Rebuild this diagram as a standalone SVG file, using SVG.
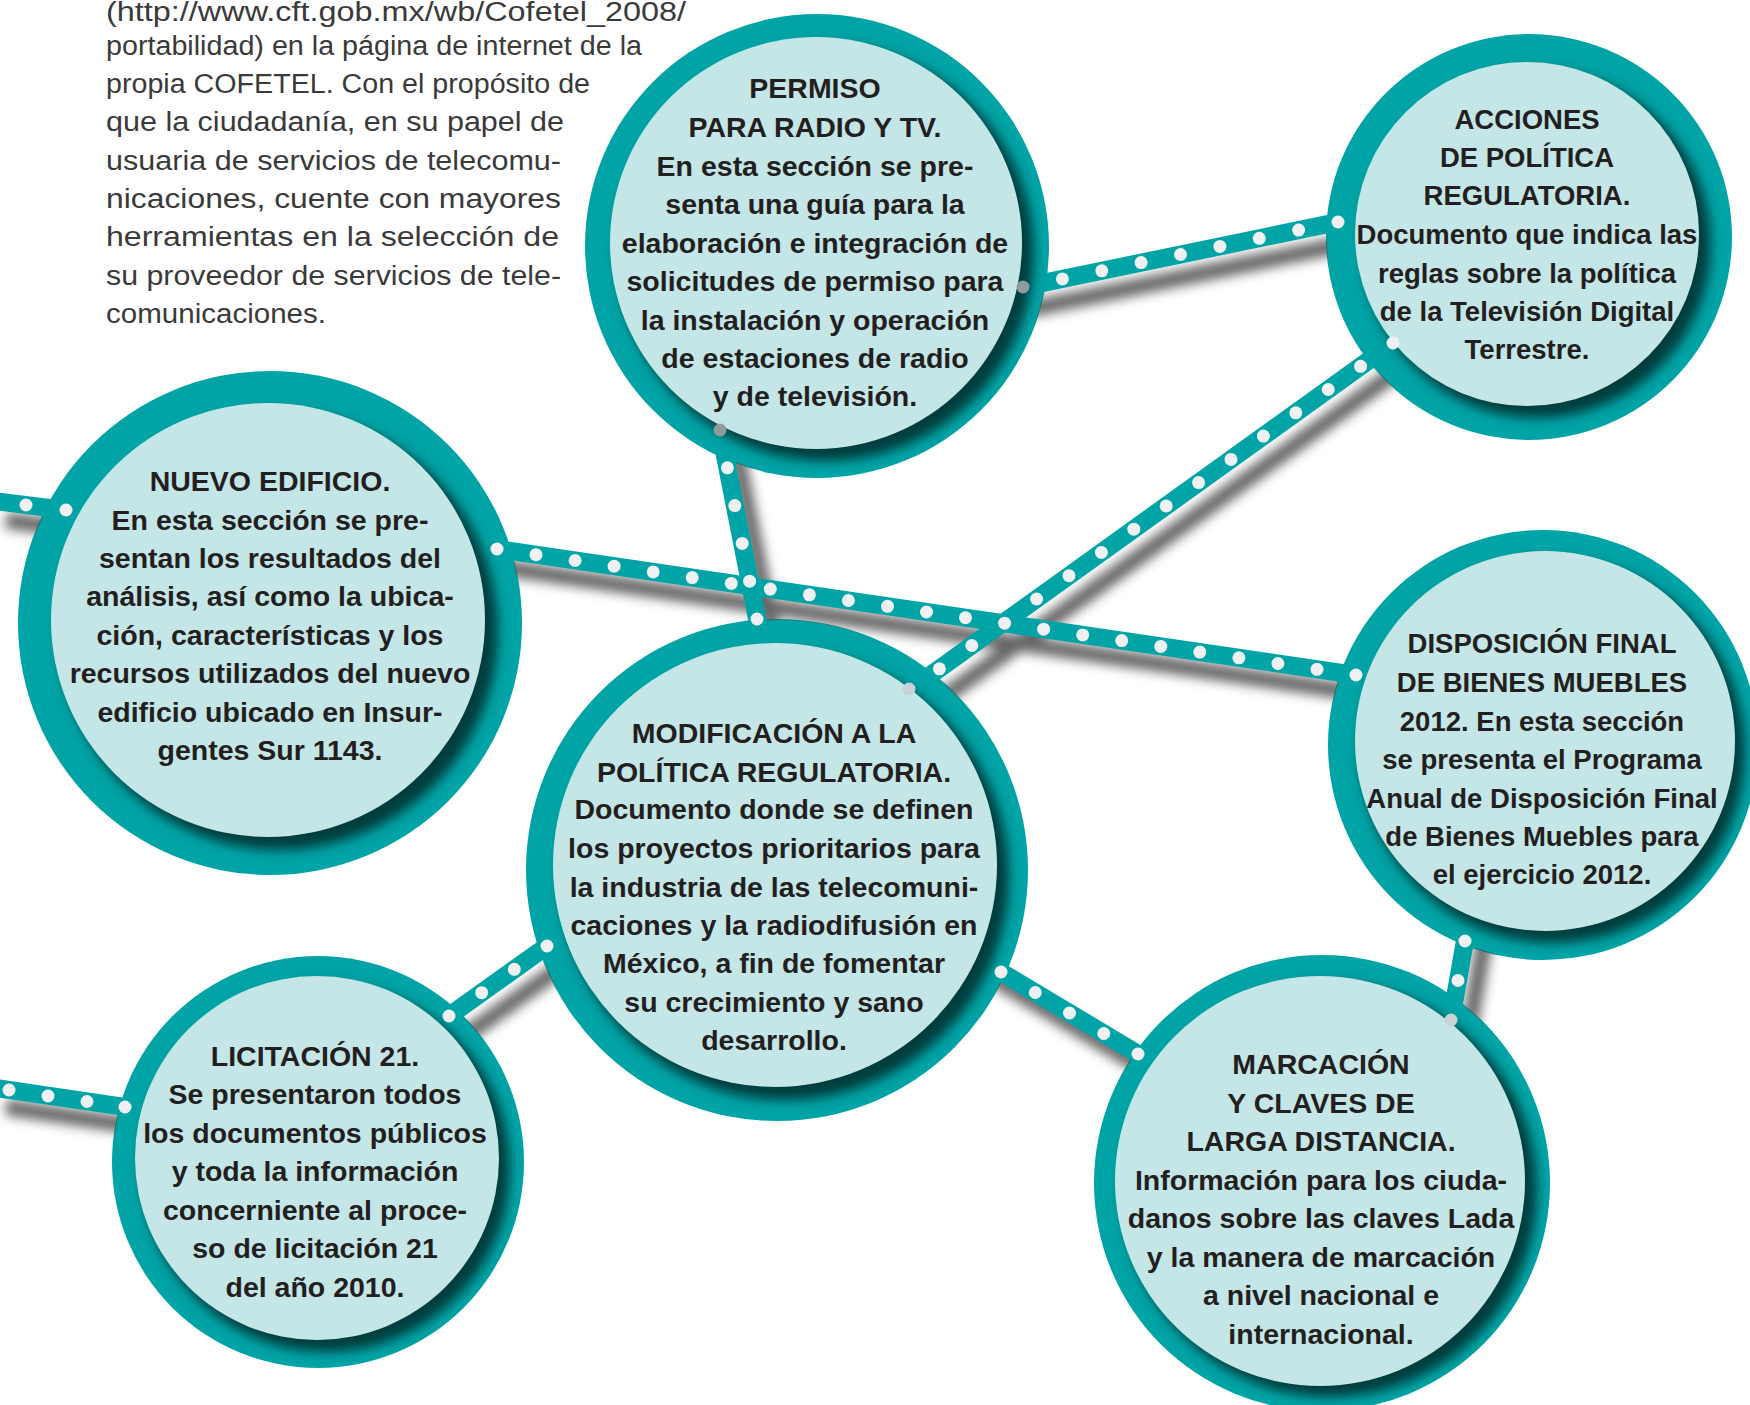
<svg xmlns="http://www.w3.org/2000/svg" width="1750" height="1405" viewBox="0 0 1750 1405">
<style>
.ring{fill:#00a4a6}
.shade{fill:#003c3e}
.core{fill:#c4e6e7}
.t{font-family:"Liberation Sans",Arial,sans-serif;font-weight:bold;font-size:28.5px;fill:#231f20;text-anchor:middle}
.s{font-size:27.5px}
.para{font-family:"Liberation Sans",Arial,sans-serif;font-size:27px;fill:#3a3a3a}
.conn{stroke:#00a4a6;stroke-width:18;fill:none}
.cshadow{stroke:#4a4a4a;stroke-width:16;fill:none}
.dot{fill:#eef0f2}
.dim{fill:#8f9c9d}
.soft{fill:#c9d3d5}
</style>
<defs>
<filter id="blurShade" x="-20%" y="-20%" width="140%" height="140%"><feGaussianBlur stdDeviation="6"/></filter>
<filter id="blurLine" filterUnits="userSpaceOnUse" x="-60" y="-60" width="1870" height="1525"><feGaussianBlur stdDeviation="6"/></filter>
<mask id="outside" maskUnits="userSpaceOnUse" x="-60" y="-60" width="1870" height="1525">
<rect x="-60" y="-60" width="1870" height="1525" fill="#fff"/>
<circle cx="817" cy="246" r="231" fill="#000"/>
<circle cx="1529" cy="237" r="202" fill="#000"/>
<circle cx="270" cy="623" r="251" fill="#000"/>
<circle cx="777" cy="870" r="250" fill="#000"/>
<circle cx="1543" cy="745" r="214" fill="#000"/>
<circle cx="318" cy="1162" r="205" fill="#000"/>
<circle cx="1322" cy="1183" r="227" fill="#000"/>
</mask>
<clipPath id="c-permiso"><circle cx="817" cy="246" r="232"/></clipPath>
<clipPath id="c-acciones"><circle cx="1529" cy="237" r="203"/></clipPath>
<clipPath id="c-nuevo"><circle cx="270" cy="623" r="252"/></clipPath>
<clipPath id="c-mod"><circle cx="777" cy="870" r="251"/></clipPath>
<clipPath id="c-disp"><circle cx="1543" cy="745" r="215"/></clipPath>
<clipPath id="c-licit"><circle cx="318" cy="1162" r="206"/></clipPath>
<clipPath id="c-marc"><circle cx="1322" cy="1183" r="228"/></clipPath>
</defs>
<rect width="1750" height="1405" fill="#ffffff"/>

<g id="intro-text" class="para">
<text x="106" y="21" textLength="580" lengthAdjust="spacingAndGlyphs">(http://www.cft.gob.mx/wb/Cofetel_2008/</text>
<text x="106" y="55" textLength="536" lengthAdjust="spacingAndGlyphs">portabilidad) en la página de internet de la</text>
<text x="106" y="93" textLength="484" lengthAdjust="spacingAndGlyphs">propia COFETEL. Con el propósito de</text>
<text x="106" y="131" textLength="458" lengthAdjust="spacingAndGlyphs">que la ciudadanía, en su papel de</text>
<text x="106" y="170" textLength="455" lengthAdjust="spacingAndGlyphs">usuaria de servicios de telecomu-</text>
<text x="106" y="208" textLength="455" lengthAdjust="spacingAndGlyphs">nicaciones, cuente con mayores</text>
<text x="106" y="246" textLength="453" lengthAdjust="spacingAndGlyphs">herramientas en la selección de</text>
<text x="106" y="285" textLength="455" lengthAdjust="spacingAndGlyphs">su proveedor de servicios de tele-</text>
<text x="106" y="323" textLength="220" lengthAdjust="spacingAndGlyphs">comunicaciones.</text>
</g>

<g id="node-permiso">
<circle class="ring" cx="817" cy="246" r="232"/>
<g clip-path="url(#c-permiso)"><circle class="shade" cx="826" cy="253" r="208" filter="url(#blurShade)"/></g>
<circle class="core" cx="816" cy="243" r="206"/>
<text class="t" x="815" y="98">PERMISO</text>
<text class="t" x="815" y="137">PARA RADIO Y TV.</text>
<text class="t" x="815" y="176">En esta sección se pre-</text>
<text class="t" x="815" y="214">senta una guía para la</text>
<text class="t" x="815" y="253">elaboración e integración de</text>
<text class="t" x="815" y="291">solicitudes de permiso para</text>
<text class="t" x="815" y="330">la instalación y operación</text>
<text class="t" x="815" y="368">de estaciones de radio</text>
<text class="t" x="815" y="406">y de televisión.</text>
</g>

<g id="node-acciones">
<circle class="ring" cx="1529" cy="237" r="203"/>
<g clip-path="url(#c-acciones)"><circle class="shade" cx="1537" cy="244" r="174" filter="url(#blurShade)"/></g>
<circle class="core" cx="1527" cy="234" r="172"/>
<text class="t s" x="1527" y="129">ACCIONES</text>
<text class="t s" x="1527" y="167">DE POLÍTICA</text>
<text class="t s" x="1527" y="205">REGULATORIA.</text>
<text class="t s" x="1527" y="244">Documento que indica las</text>
<text class="t s" x="1527" y="283">reglas sobre la política</text>
<text class="t s" x="1527" y="321">de la Televisión Digital</text>
<text class="t s" x="1527" y="359">Terrestre.</text>
</g>

<g id="node-nuevo-edificio">
<circle class="ring" cx="270" cy="623" r="252"/>
<g clip-path="url(#c-nuevo)"><circle class="shade" cx="279" cy="631" r="219" filter="url(#blurShade)"/></g>
<circle class="core" cx="268" cy="620" r="217"/>
<text class="t" x="270" y="491">NUEVO EDIFICIO.</text>
<text class="t" x="270" y="530">En esta sección se pre-</text>
<text class="t" x="270" y="568">sentan los resultados del</text>
<text class="t" x="270" y="606">análisis, así como la ubica-</text>
<text class="t" x="270" y="645">ción, características y los</text>
<text class="t" x="270" y="683">recursos utilizados del nuevo</text>
<text class="t" x="270" y="722">edificio ubicado en Insur-</text>
<text class="t" x="270" y="760">gentes Sur 1143.</text>
</g>

<g id="node-modificacion">
<circle class="ring" cx="777" cy="870" r="251"/>
<g clip-path="url(#c-mod)"><circle class="shade" cx="785" cy="876" r="224" filter="url(#blurShade)"/></g>
<circle class="core" cx="775" cy="865" r="222"/>
<text class="t" x="774" y="743">MODIFICACIÓN A LA</text>
<text class="t" x="774" y="782">POLÍTICA REGULATORIA.</text>
<text class="t" x="774" y="819">Documento donde se definen</text>
<text class="t" x="774" y="858">los proyectos prioritarios para</text>
<text class="t" x="774" y="897">la industria de las telecomuni-</text>
<text class="t" x="774" y="935">caciones y la radiodifusión en</text>
<text class="t" x="774" y="973">México, a fin de fomentar</text>
<text class="t" x="774" y="1012">su crecimiento y sano</text>
<text class="t" x="774" y="1050">desarrollo.</text>
</g>

<g id="node-disposicion">
<circle class="ring" cx="1543" cy="745" r="215"/>
<g clip-path="url(#c-disp)"><circle class="shade" cx="1553" cy="751" r="192" filter="url(#blurShade)"/></g>
<circle class="core" cx="1545" cy="741" r="190"/>
<text class="t s" x="1542" y="653">DISPOSICIÓN FINAL</text>
<text class="t s" x="1542" y="692">DE BIENES MUEBLES</text>
<text class="t s" x="1542" y="731">2012. En esta sección</text>
<text class="t s" x="1542" y="769">se presenta el Programa</text>
<text class="t s" x="1542" y="808">Anual de Disposición Final</text>
<text class="t s" x="1542" y="846">de Bienes Muebles para</text>
<text class="t s" x="1542" y="884">el ejercicio 2012.</text>
</g>

<g id="node-licitacion">
<circle class="ring" cx="318" cy="1162" r="206"/>
<g clip-path="url(#c-licit)"><circle class="shade" cx="326" cy="1168" r="184" filter="url(#blurShade)"/></g>
<circle class="core" cx="317" cy="1158" r="182"/>
<text class="t" x="315" y="1066">LICITACIÓN 21.</text>
<text class="t" x="315" y="1104">Se presentaron todos</text>
<text class="t" x="315" y="1143">los documentos públicos</text>
<text class="t" x="315" y="1181">y toda la información</text>
<text class="t" x="315" y="1220">concerniente al proce-</text>
<text class="t" x="315" y="1258">so de licitación 21</text>
<text class="t" x="315" y="1297">del año 2010.</text>
</g>

<g id="node-marcacion">
<circle class="ring" cx="1322" cy="1183" r="228"/>
<g clip-path="url(#c-marc)"><circle class="shade" cx="1330" cy="1190" r="207" filter="url(#blurShade)"/></g>
<circle class="core" cx="1320" cy="1181" r="205"/>
<text class="t" x="1321" y="1074">MARCACIÓN</text>
<text class="t" x="1321" y="1113">Y CLAVES DE</text>
<text class="t" x="1321" y="1151">LARGA DISTANCIA.</text>
<text class="t" x="1321" y="1190">Información para los ciuda-</text>
<text class="t" x="1321" y="1228">danos sobre las claves Lada</text>
<text class="t" x="1321" y="1267">y la manera de marcación</text>
<text class="t" x="1321" y="1305">a nivel nacional e</text>
<text class="t" x="1321" y="1344">internacional.</text>
</g>

<g id="connectors">
<g mask="url(#outside)">
<g filter="url(#blurLine)" opacity="0.85" transform="translate(16,20)">
<path class="cshadow" d="M -10 500.5 L 130 518"/>
<path class="cshadow" d="M 450 542.1 L 1400 681.5"/>
<path class="cshadow" d="M 716 410 L 762 644"/>
<path class="cshadow" d="M 995 292.8 L 1370 215.4"/>
<path class="cshadow" d="M 1420 323.6 L 885 707.8"/>
<path class="cshadow" d="M 575 926 L 420 1036.7"/>
<path class="cshadow" d="M -10 1087.2 L 150 1110.7"/>
<path class="cshadow" d="M 975 956.4 L 1165 1070.2"/>
<path class="cshadow" d="M 1469 918 L 1447 1043"/>
</g>
<path class="conn" d="M -10 500.5 L 130 518"/>
<path class="conn" d="M 450 542.1 L 1400 681.5"/>
<path class="conn" d="M 716 410 L 762 644"/>
<path class="conn" d="M 995 292.8 L 1370 215.4"/>
<path class="conn" d="M 1420 323.6 L 885 707.8"/>
<path class="conn" d="M 575 926 L 420 1036.7"/>
<path class="conn" d="M -10 1087.2 L 150 1110.7"/>
<path class="conn" d="M 975 956.4 L 1165 1070.2"/>
<path class="conn" d="M 1469 918 L 1447 1043"/>
</g>
<g id="connector-dots">
<circle class="dot" cx="26" cy="505" r="6.5"/>
<circle class="dot" cx="66" cy="510" r="6.5"/>

<circle class="dot" cx="497" cy="549" r="6.5"/>
<circle class="dot" cx="536" cy="554.7" r="6.5"/>
<circle class="dot" cx="575.1" cy="560.5" r="6.5"/>
<circle class="dot" cx="614.1" cy="566.2" r="6.5"/>
<circle class="dot" cx="653.2" cy="571.9" r="6.5"/>
<circle class="dot" cx="692.2" cy="577.6" r="6.5"/>
<circle class="dot" cx="731.3" cy="583.4" r="6.5"/>
<circle class="dot" cx="770.3" cy="589.1" r="6.5"/>
<circle class="dot" cx="809.4" cy="594.8" r="6.5"/>
<circle class="dot" cx="848.4" cy="600.5" r="6.5"/>
<circle class="dot" cx="887.5" cy="606.3" r="6.5"/>
<circle class="dot" cx="926.5" cy="612" r="6.5"/>
<circle class="dot" cx="965.5" cy="617.7" r="6.5"/>
<circle class="dot" cx="1004.6" cy="623.2" r="6.5"/>
<circle class="dot" cx="1043.6" cy="629.2" r="6.5"/>
<circle class="dot" cx="1082.7" cy="634.9" r="6.5"/>
<circle class="dot" cx="1121.7" cy="640.6" r="6.5"/>
<circle class="dot" cx="1160.8" cy="646.4" r="6.5"/>
<circle class="dot" cx="1199.8" cy="652.1" r="6.5"/>
<circle class="dot" cx="1238.9" cy="657.8" r="6.5"/>
<circle class="dot" cx="1277.9" cy="663.5" r="6.5"/>
<circle class="dot" cx="1317" cy="669.3" r="6.5"/>
<circle class="dot" cx="1356" cy="675" r="6.5"/>

<circle class="dim" cx="720" cy="430" r="6.5"/>
<circle class="dot" cx="727.4" cy="467.8" r="6.5"/>
<circle class="dot" cx="734.8" cy="505.6" r="6.5"/>
<circle class="dot" cx="742.2" cy="543.4" r="6.5"/>
<circle class="dot" cx="749.6" cy="581.2" r="6.5"/>
<circle class="dot" cx="757" cy="619" r="6.5"/>

<circle class="dim" cx="1023" cy="287" r="6.5"/>
<circle class="dot" cx="1062.4" cy="278.9" r="6.5"/>
<circle class="dot" cx="1101.8" cy="270.8" r="6.5"/>
<circle class="dot" cx="1141.1" cy="262.6" r="6.5"/>
<circle class="dot" cx="1180.5" cy="254.5" r="6.5"/>
<circle class="dot" cx="1219.9" cy="246.4" r="6.5"/>
<circle class="dot" cx="1259.3" cy="238.3" r="6.5"/>
<circle class="dot" cx="1298.6" cy="230.1" r="6.5"/>
<circle class="dot" cx="1338" cy="222" r="6.5"/>

<circle class="dot" cx="1393" cy="343" r="6.5"/>
<circle class="dot" cx="1360.6" cy="366.3" r="6.5"/>
<circle class="dot" cx="1328.2" cy="389.5" r="6.5"/>
<circle class="dot" cx="1295.8" cy="412.8" r="6.5"/>
<circle class="dot" cx="1263.4" cy="436.1" r="6.5"/>
<circle class="dot" cx="1231" cy="459.4" r="6.5"/>
<circle class="dot" cx="1198.6" cy="482.6" r="6.5"/>
<circle class="dot" cx="1166.2" cy="505.9" r="6.5"/>
<circle class="dot" cx="1133.8" cy="529.2" r="6.5"/>
<circle class="dot" cx="1101.4" cy="552.4" r="6.5"/>
<circle class="dot" cx="1069" cy="575.7" r="6.5"/>
<circle class="dot" cx="1036.6" cy="599" r="6.5"/>
<circle class="dot" cx="971.8" cy="645.5" r="6.5"/>
<circle class="dot" cx="939.4" cy="668.8" r="6.5"/>
<circle class="soft" cx="909" cy="689" r="6.5"/>

<circle class="dot" cx="547" cy="946" r="6.5"/>
<circle class="dot" cx="514.3" cy="969.3" r="6.5"/>
<circle class="dot" cx="481.7" cy="992.7" r="6.5"/>
<circle class="dot" cx="449" cy="1016" r="6.5"/>

<circle class="dot" cx="9" cy="1090" r="6.5"/>
<circle class="dot" cx="48" cy="1096" r="6.5"/>
<circle class="dot" cx="87" cy="1101.5" r="6.5"/>
<circle class="dot" cx="125" cy="1107" r="6.5"/>

<circle class="dot" cx="1001" cy="972" r="6.5"/>
<circle class="dot" cx="1035.3" cy="992.5" r="6.5"/>
<circle class="dot" cx="1069.5" cy="1013" r="6.5"/>
<circle class="dot" cx="1103.8" cy="1033.5" r="6.5"/>
<circle class="dot" cx="1138" cy="1054" r="6.5"/>

<circle class="dot" cx="1465" cy="941" r="6.5"/>
<circle class="dot" cx="1458" cy="980.5" r="6.5"/>
<circle class="soft" cx="1451" cy="1020" r="6.5"/>
</g>
</g>
</svg>
